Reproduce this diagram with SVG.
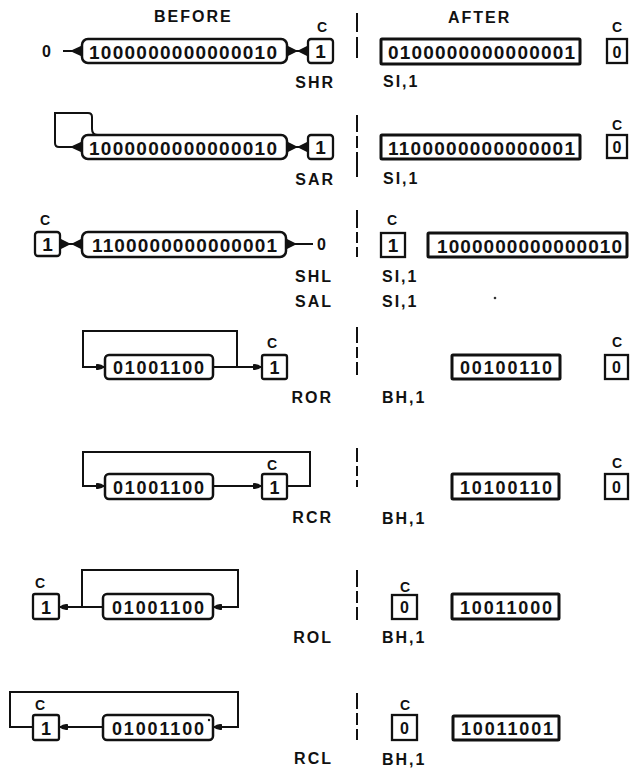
<svg xmlns="http://www.w3.org/2000/svg" width="630" height="770" viewBox="0 0 630 770">
<defs>
<style>
.reg{fill:#fff;stroke:#111;stroke-width:2.5}
.areg{fill:#fff;stroke:#111;stroke-width:3}
.cb{fill:#fff;stroke:#111;stroke-width:2.3}
.dig{font-family:"Liberation Sans",Arial,sans-serif;font-weight:bold;font-size:19px;fill:#111}
.dig8{font-family:"Liberation Sans",Arial,sans-serif;font-weight:bold;font-size:18px;fill:#111}
.lbl{font-family:"Liberation Sans",Arial,sans-serif;font-weight:bold;font-size:16px;letter-spacing:2px;fill:#111}
.hd{font-family:"Liberation Sans",Arial,sans-serif;font-weight:bold;font-size:16px;letter-spacing:2px;fill:#111}
.c{font-family:"Liberation Sans",Arial,sans-serif;font-weight:bold;font-size:14px;fill:#111;text-anchor:middle}
.wire{stroke:#111;stroke-width:2;fill:none}
.flare{fill:#111}
.div{stroke:#111;stroke-width:2;fill:none}
</style>
<marker id="ah" markerUnits="userSpaceOnUse" markerWidth="10" markerHeight="8" refX="9" refY="4" orient="auto">
<path d="M0,1.2 Q4,0 9,4 Q4,8 0,6.8 Z" fill="#111"/>
</marker>
</defs>
<rect width="630" height="770" fill="#fff"/>

<text class="hd" x="154" y="22">BEFORE</text>
<text class="hd" x="448" y="23">AFTER</text>

<g id="dividers">
<path class="div" d="M357,13V32M357,37V58"/>
<path class="div" d="M357,115V132M357,136V148M357,152V177"/>
<path class="div" d="M357,210V228M357,232V243M357,247V257"/>
<path class="div" d="M357,327V343M357,347V358M357,362V375"/>
<path class="div" d="M357,448V462M357,466V476M357,480V487"/>
<path class="div" d="M357,570V587M357,591V603M357,607V620"/>
<path class="div" d="M357,693V709M357,713V725M357,729V740"/>
</g>

<g id="connectors">
<!-- SHR -->
<line class="wire" x1="63" y1="51" x2="80" y2="51"/>
<path class="flare" d="M70,51 L83,45 L83,57 Z"/>
<path class="flare" d="M286,45 L298,51 L286,57 Z"/>
<line class="wire" x1="287" y1="51" x2="308" y2="51"/>
<path class="flare" d="M297,51 L309,45 L309,57 Z"/>
<!-- SAR -->
<path class="wire" d="M98,135 Q92,135 92,129 L92,117 Q92,113 88,113 L55,113 L55,143 Q55,147 59,147 L80,147"/>
<path class="flare" d="M70,147 L83,141 L83,153 Z"/>
<path class="flare" d="M286,141 L298,147 L286,153 Z"/>
<line class="wire" x1="287" y1="147" x2="308" y2="147"/>
<path class="flare" d="M297,147 L309,141 L309,153 Z"/>
<!-- SHL -->
<path class="flare" d="M59,238 L71,244 L59,250 Z"/>
<line class="wire" x1="60" y1="244" x2="82" y2="244"/>
<path class="flare" d="M71,244 L83,238 L83,250 Z"/>
<path class="flare" d="M285,238 L297,244 L285,250 Z"/>
<line class="wire" x1="286" y1="244" x2="313" y2="244"/>
<!-- ROR -->
<path class="wire" marker-end="url(#ah)" d="M237,367 L237,331 L83,331 L83,367 L105,367"/>
<line class="wire" marker-end="url(#ah)" x1="213" y1="367" x2="262" y2="367"/>
<!-- RCR -->
<path class="wire" marker-end="url(#ah)" d="M287,486 L310,486 L310,452 L83,452 L83,486 L105,486"/>
<line class="wire" marker-end="url(#ah)" x1="213" y1="486" x2="262" y2="486"/>
<!-- ROL -->
<line class="wire" marker-end="url(#ah)" x1="103" y1="607" x2="59" y2="607"/>
<path class="wire" marker-end="url(#ah)" d="M82,607 L82,570 L238,570 L238,607 L213,607"/>
<!-- RCL -->
<path class="wire" d="M33,727 L10,727 L10,692 L238,692 L238,705"/>
<path class="wire" marker-end="url(#ah)" d="M238,700 L238,727 L213,727"/>
<line class="wire" marker-end="url(#ah)" x1="103" y1="727" x2="59" y2="727"/>
</g>

<!-- Row 1: SHR -->
<g id="shr-zero"><text class="lbl" x="42" y="57" style="letter-spacing:0">0</text></g>
<g id="shr-before-reg">
<rect class="reg" x="82" y="39" width="205" height="24" rx="6"/>
<text class="dig" x="89" y="59" textLength="188" lengthAdjust="spacing">1000000000000010</text>
</g>
<g id="shr-before-c">
<text class="c" x="322" y="32">C</text>
<rect class="cb" x="308" y="39" width="25" height="24" rx="3"/>
<text class="dig" x="320.5" y="58" text-anchor="middle">1</text>
</g>
<g id="shr-label"><text class="lbl" x="335" y="88" text-anchor="end">SHR</text></g>
<g id="shr-after-reg">
<rect class="areg" x="381" y="39" width="199" height="25" rx="1"/>
<text class="dig" x="388" y="59" textLength="187" lengthAdjust="spacing">0100000000000001</text>
</g>
<g id="shr-after-c">
<text class="c" x="617" y="32">C</text>
<rect class="cb" x="607" y="39" width="20" height="24"/>
<text class="dig" x="617" y="58" text-anchor="middle" style="font-size:16px">0</text>
</g>
<g id="shr-operand"><text class="lbl" x="383" y="87">SI,1</text></g>

<!-- Row 2: SAR -->
<g id="sar-before-reg">
<rect class="reg" x="82" y="135" width="205" height="24" rx="6"/>
<text class="dig" x="89" y="155" textLength="188" lengthAdjust="spacing">1000000000000010</text>
</g>
<g id="sar-before-c">
<rect class="cb" x="308" y="135" width="25" height="24" rx="3"/>
<text class="dig" x="320.5" y="154" text-anchor="middle">1</text>
</g>
<g id="sar-label"><text class="lbl" x="335" y="185" text-anchor="end">SAR</text></g>
<g id="sar-after-reg">
<rect class="areg" x="381" y="135" width="199" height="24" rx="1"/>
<text class="dig" x="388" y="155" textLength="187" lengthAdjust="spacing">1100000000000001</text>
</g>
<g id="sar-after-c">
<text class="c" x="617" y="130">C</text>
<rect class="cb" x="607" y="135" width="20" height="23"/>
<text class="dig" x="617" y="153" text-anchor="middle" style="font-size:16px">0</text>
</g>
<g id="sar-operand"><text class="lbl" x="383" y="184">SI,1</text></g>

<!-- Row 3: SHL / SAL -->
<g id="shl-before-c">
<text class="c" x="45" y="225">C</text>
<rect class="cb" x="35" y="232" width="25" height="24" rx="3"/>
<text class="dig" x="47.5" y="251" text-anchor="middle">1</text>
</g>
<g id="shl-before-reg">
<rect class="reg" x="82" y="232" width="204" height="25" rx="6"/>
<text class="dig" x="92" y="252" textLength="185" lengthAdjust="spacing">1100000000000001</text>
</g>
<g id="shl-zero"><text class="lbl" x="317" y="250" style="letter-spacing:0">0</text></g>
<g id="shl-label"><text class="lbl" x="333" y="282" text-anchor="end">SHL</text></g>
<g id="sal-label"><text class="lbl" x="333" y="307" text-anchor="end">SAL</text></g>
<g id="shl-after-c">
<text class="c" x="392" y="225">C</text>
<rect class="cb" x="381" y="233" width="24" height="24"/>
<text class="dig" x="393" y="252" text-anchor="middle">1</text>
</g>
<g id="shl-after-reg">
<rect class="areg" x="428" y="233" width="199" height="24" rx="1"/>
<text class="dig" x="437" y="253" textLength="185" lengthAdjust="spacing">1000000000000010</text>
</g>
<g id="shl-operand"><text class="lbl" x="382" y="282">SI,1</text></g>
<g id="sal-operand"><text class="lbl" x="382" y="307">SI,1</text></g>
<circle cx="495" cy="298" r="1.3" fill="#333"/>

<!-- Row 4: ROR -->
<g id="ror-before-reg">
<rect class="reg" x="105" y="355" width="108" height="24" rx="4"/>
<text class="dig8" x="113" y="374" textLength="91" lengthAdjust="spacing">01001100</text>
</g>
<g id="ror-before-c">
<text class="c" x="272" y="348">C</text>
<rect class="cb" x="262" y="355" width="25" height="24" rx="2"/>
<text class="dig8" x="274.5" y="374" text-anchor="middle">1</text>
</g>
<g id="ror-label"><text class="lbl" x="333" y="403" text-anchor="end">ROR</text></g>
<g id="ror-after-reg">
<rect class="areg" x="452" y="355" width="108" height="24" rx="1"/>
<text class="dig8" x="460" y="374" textLength="92" lengthAdjust="spacing">00100110</text>
</g>
<g id="ror-after-c">
<text class="c" x="617" y="347">C</text>
<rect class="cb" x="605" y="355" width="23" height="24"/>
<text class="dig8" x="616.5" y="373" text-anchor="middle" style="font-size:16px">0</text>
</g>
<g id="ror-operand"><text class="lbl" x="382" y="403">BH,1</text></g>

<!-- Row 5: RCR -->
<g id="rcr-before-reg">
<rect class="reg" x="105" y="474" width="108" height="25" rx="4"/>
<text class="dig8" x="113" y="494" textLength="91" lengthAdjust="spacing">01001100</text>
</g>
<g id="rcr-before-c">
<text class="c" x="272" y="470">C</text>
<rect class="cb" x="262" y="474" width="25" height="25" rx="2"/>
<text class="dig8" x="274.5" y="494" text-anchor="middle">1</text>
</g>
<g id="rcr-label"><text class="lbl" x="333" y="523" text-anchor="end">RCR</text></g>
<g id="rcr-after-reg">
<rect class="areg" x="452" y="474" width="107" height="25" rx="1"/>
<text class="dig8" x="460" y="494" textLength="92" lengthAdjust="spacing">10100110</text>
</g>
<g id="rcr-after-c">
<text class="c" x="617" y="468">C</text>
<rect class="cb" x="605" y="474" width="23" height="25"/>
<text class="dig8" x="616.5" y="493" text-anchor="middle" style="font-size:16px">0</text>
</g>
<g id="rcr-operand"><text class="lbl" x="382" y="524">BH,1</text></g>

<!-- Row 6: ROL -->
<g id="rol-before-c">
<text class="c" x="40" y="588">C</text>
<rect class="cb" x="33" y="594" width="26" height="25" rx="2"/>
<text class="dig8" x="46" y="614" text-anchor="middle">1</text>
</g>
<g id="rol-before-reg">
<rect class="reg" x="103" y="594" width="110" height="25" rx="4"/>
<text class="dig8" x="112" y="614" textLength="92" lengthAdjust="spacing">01001100</text>
</g>
<g id="rol-label"><text class="lbl" x="333" y="643" text-anchor="end">ROL</text></g>
<g id="rol-after-c">
<text class="c" x="405" y="592">C</text>
<rect class="cb" x="392" y="595" width="25" height="24"/>
<text class="dig8" x="404.5" y="613" text-anchor="middle" style="font-size:16px">0</text>
</g>
<g id="rol-after-reg">
<rect class="areg" x="452" y="594" width="107" height="25" rx="1"/>
<text class="dig8" x="460" y="614" textLength="92" lengthAdjust="spacing">10011000</text>
</g>
<g id="rol-operand"><text class="lbl" x="382" y="643">BH,1</text></g>

<!-- Row 7: RCL -->
<g id="rcl-before-c">
<text class="c" x="40" y="710">C</text>
<rect class="cb" x="33" y="715" width="26" height="25" rx="2"/>
<text class="dig8" x="46" y="735" text-anchor="middle">1</text>
</g>
<g id="rcl-before-reg">
<rect class="reg" x="103" y="715" width="110" height="25" rx="4"/>
<text class="dig8" x="112" y="735" textLength="92" lengthAdjust="spacing">01001100</text>
<circle cx="209" cy="720" r="1.2" fill="#111"/>
</g>
<g id="rcl-label"><text class="lbl" x="333" y="764" text-anchor="end">RCL</text></g>
<g id="rcl-after-c">
<text class="c" x="405" y="710">C</text>
<rect class="cb" x="392" y="715" width="25" height="25"/>
<text class="dig8" x="404.5" y="734" text-anchor="middle" style="font-size:16px">0</text>
</g>
<g id="rcl-after-reg">
<rect class="areg" x="453" y="716" width="106" height="24" rx="1"/>
<text class="dig8" x="461" y="735" textLength="92" lengthAdjust="spacing">10011001</text>
</g>
<g id="rcl-operand"><text class="lbl" x="382" y="765">BH,1</text></g>
</svg>
